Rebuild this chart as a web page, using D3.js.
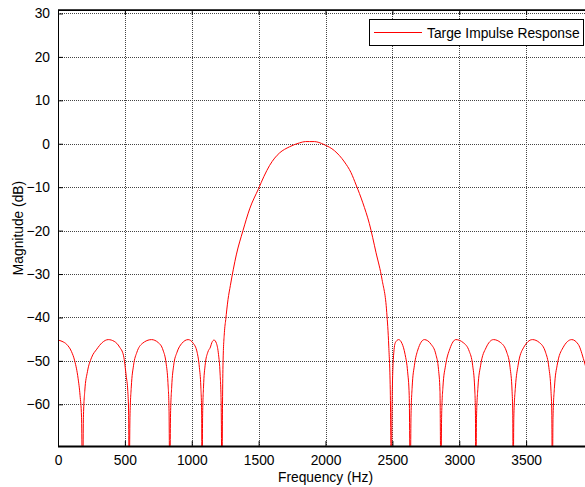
<!DOCTYPE html>
<html>
<head>
<meta charset="utf-8">
<script src="https://cdn.jsdelivr.net/npm/d3@7"></script>
<style>
  body { margin: 0; background: #fff; }
  svg { display: block; font-family: "Liberation Sans", Arial, sans-serif; }
</style>
</head>
<body>
<div id="chart"></div>
<script>
// frequency (Hz) and magnitude (dB)
const freq = [
  0, 30, 65, 100, 125, 150, 165, 176, 184,
  190, 200, 220, 250, 290, 330, 376, 420, 460, 490, 510, 522, 528, 532,
  538, 548, 565, 590, 630, 699, 750, 785, 808, 822, 830, 836,
  841, 850, 865, 890, 925, 973, 1010, 1040, 1057, 1068, 1074, 1077,
  1081, 1088, 1100, 1120, 1140, 1150, 1167, 1185, 1200, 1212, 1220, 1226,
  1230, 1234, 1244, 1254, 1271, 1289, 1333, 1383, 1433, 1500, 1540, 1582, 1620, 1657, 1731, 1806, 1850, 1881,
  1918, 1950, 1990, 2067, 2142, 2190, 2229, 2279, 2328, 2378, 2423, 2458, 2473, 2485, 2493,
  2497, 2507, 2522, 2547, 2572, 2595, 2614, 2626, 2634,
  2639, 2648, 2665, 2690, 2739, 2790, 2825, 2845, 2856, 2863,
  2868, 2878, 2898, 2930, 2975, 3030, 3075, 3100, 3115, 3121, 3124,
  3129, 3140, 3160, 3200, 3256, 3310, 3355, 3380, 3395, 3400, 3403,
  3408, 3420, 3440, 3480, 3547, 3600, 3645, 3670, 3686, 3692, 3696,
  3701, 3712, 3732, 3775, 3841, 3890, 3933, 3960
];
const magDb = [
  -45.2, -45.5, -46.2, -47.8, -50, -54, -58, -63, -80,
  -63, -57, -52.5, -49.3, -47.3, -45.8, -45.1, -45.5, -46.8, -48.8, -53.5, -57, -62, -80,
  -63, -56, -51, -48, -46, -45.1, -45.8, -47.5, -50.5, -55, -61, -80,
  -63, -56, -51, -48, -46, -45.1, -45.9, -48, -51.5, -56, -62, -80,
  -63, -56, -51, -48, -46.8, -45.8, -45.2, -46, -48.5, -53, -60, -80,
  -60, -50.4, -43.5, -40.5, -35.9, -32.6, -25.6, -20.0, -15.0, -10.3, -7.5, -5.0, -3.3, -2.1, -0.7, 0.2, 0.5, 0.5,
  0.5, 0.3, -0.2, -1.6, -4.2, -6.6, -9.5, -13.6, -18.4, -25.1, -31.3, -38.9, -46.6, -58, -80,
  -62, -49.7, -45.8, -45.1, -46, -48.5, -52.5, -58, -80,
  -63, -56, -51, -47.5, -45.1, -46.2, -48.5, -52, -57, -80,
  -63, -56, -51, -47.2, -45.1, -45.8, -47.8, -51, -56, -62, -80,
  -63, -56, -51, -47, -45.1, -45.8, -48, -51.5, -57, -62, -80,
  -63, -56, -51, -47, -45.1, -45.8, -48, -51.5, -57, -62, -80,
  -63, -56, -51, -47, -45.1, -46.2, -50, -53
];
const xTicks = [0, 500, 1000, 1500, 2000, 2500, 3000, 3500];
const yTicks = [30, 20, 10, 0, -10, -20, -30, -40, -50, -60];
const legendLabel = "Targe Impulse Response";

const W = 585, H = 487;
const pL = 58, pR = 593, pT = 10, pB = 446;
const fs = "13.8px";

const svg = d3.select("#chart").append("svg").attr("width", W).attr("height", H);

const x = d3.scaleLinear().domain([0, 4000]).range([pL, pR]);
const y = d3.scaleLinear().domain([-69.6, 30.8]).range([pB, pT]);

svg.append("defs").append("clipPath").attr("id", "clip")
  .append("rect").attr("x", pL).attr("y", pT)
  .attr("width", pR - pL).attr("height", pB - pT);

// grid
const grid = svg.append("g");
grid.selectAll(".gx").data(xTicks.slice(1)).enter().append("line")
  .attr("x1", d => Math.round(x(d)) + 0.5).attr("x2", d => Math.round(x(d)) + 0.5)
  .attr("y1", pT).attr("y2", pB)
  .attr("stroke", "#444").attr("stroke-dasharray", "1,1");
grid.selectAll(".gy").data(yTicks).enter().append("line")
  .attr("x1", pL).attr("x2", pR)
  .attr("y1", d => Math.round(y(d)) + 0.5).attr("y2", d => Math.round(y(d)) + 0.5)
  .attr("stroke", "#444").attr("stroke-dasharray", "1,1");

// curve
const pts = freq.map((f, i) => [f, magDb[i]]);
svg.append("path")
  .datum(pts)
  .attr("clip-path", "url(#clip)")
  .attr("fill", "none")
  .attr("stroke", "#ff0000")
  .attr("stroke-width", 1)
  .attr("d", d3.line().curve(d3.curveMonotoneX).x(d => x(d[0])).y(d => y(d[1])));

// axes
const axB = d3.axisBottom(x).tickValues(xTicks).tickFormat(d3.format("d"))
  .tickSizeInner(-5).tickSizeOuter(0).tickPadding(9);
const axT = d3.axisTop(x).tickValues(xTicks).tickSizeInner(-5).tickSizeOuter(0).tickFormat("");
const axL = d3.axisLeft(y).tickValues(yTicks).tickFormat(d3.format("d"))
  .tickSizeInner(-5).tickSizeOuter(0).tickPadding(8);
const axR = d3.axisRight(y).tickValues(yTicks).tickSizeInner(-5).tickSizeOuter(0).tickFormat("");

function style(g) {
  g.select(".domain").remove();
  g.selectAll("line").attr("stroke", "#000");
  g.selectAll("text").attr("fill", "#000").style("font-size", fs)
    .style("font-family", "'Liberation Sans', Arial, sans-serif");
}
svg.append("g").attr("transform", `translate(0,${pB})`).call(axB).call(style);
svg.append("g").attr("transform", `translate(0,${pT})`).call(axT).call(style);
svg.append("g").attr("transform", `translate(${pL},0)`).call(axL).call(style);
svg.append("g").attr("transform", `translate(${pR},0)`).call(axR).call(style);

// frame
svg.append("rect").attr("x", pL + 0.5).attr("y", pT + 0.5)
  .attr("width", pR - pL).attr("height", pB - pT)
  .attr("fill", "none").attr("stroke", "#000").attr("stroke-width", 1);
svg.append("line").attr("x1", pL).attr("x2", pR)
  .attr("y1", pB + 0.5).attr("y2", pB + 0.5)
  .attr("stroke", "#000").attr("stroke-width", 2);
svg.append("line").attr("x1", pL).attr("x2", pR)
  .attr("y1", pT).attr("y2", pT)
  .attr("stroke", "#000").attr("stroke-width", 1.5);

// labels
svg.append("text").attr("x", (pL + pR) / 2).attr("y", 482)
  .attr("text-anchor", "middle").style("font-size", fs).text("Frequency (Hz)");
svg.append("text").attr("transform", `translate(23,${(pT + pB) / 2}) rotate(-90)`)
  .attr("text-anchor", "middle").style("font-size", fs).text("Magnitude (dB)");

// legend
const lg = svg.append("g");
lg.append("rect").attr("x", 369.5).attr("y", 19.5).attr("width", 214).attr("height", 26)
  .attr("fill", "#fff").attr("stroke", "#000");
lg.append("line").attr("x1", 374).attr("x2", 422).attr("y1", 32.5).attr("y2", 32.5)
  .attr("stroke", "#ff0000");
lg.append("text").attr("x", 427).attr("y", 37.5).style("font-size", fs).text(legendLabel);
</script>
</body>
</html>
